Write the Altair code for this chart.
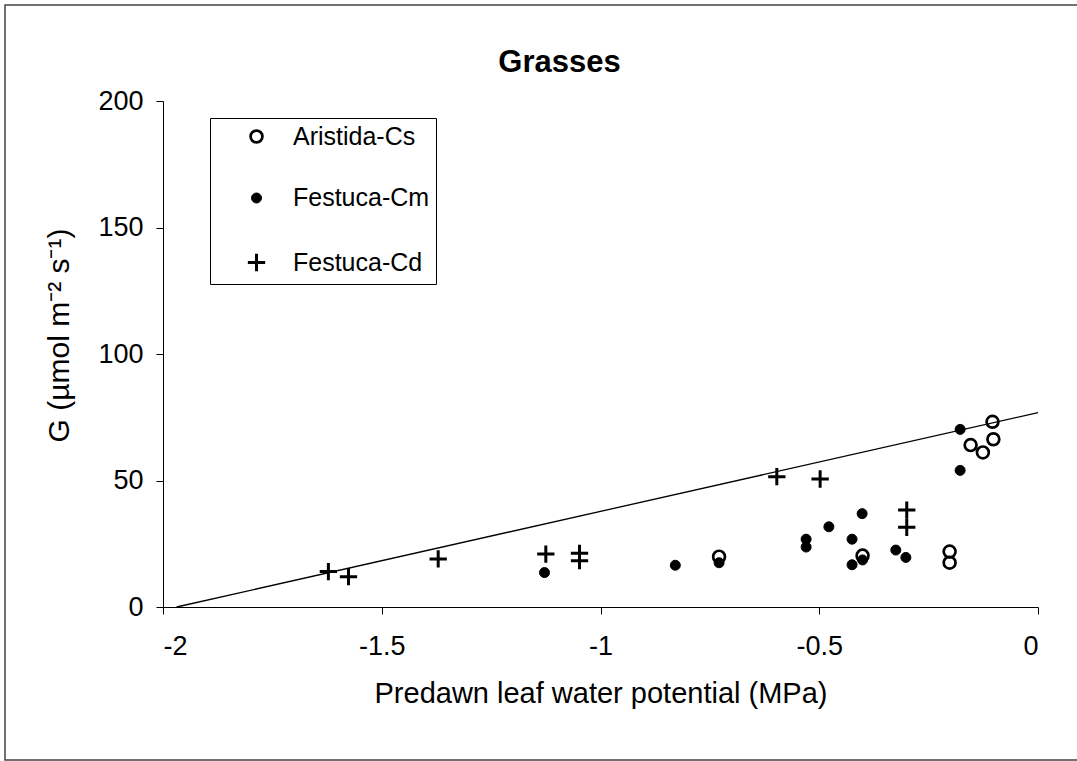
import altair as alt
import pandas as pd

# ---- data ----
species_order = ["Aristida-Cs", "Festuca-Cm", "Festuca-Cd"]

aristida_x = [-0.729, -0.401, -0.202, -0.202, -0.154, -0.126, -0.104, -0.102]
aristida_y = [19.9, 20.3, 21.9, 17.5, 64.0, 61.1, 73.2, 66.3]

cm_x = [-1.128, -0.829, -0.729, -0.530, -0.530, -0.478, -0.425, -0.425,
        -0.402, -0.401, -0.325, -0.302, -0.178, -0.178]
cm_y = [13.6, 16.5, 17.5, 26.8, 23.7, 31.7, 26.8, 16.7,
        36.9, 18.6, 22.5, 19.6, 70.2, 54.0]

cd_x = [-1.622, -1.576, -1.371, -1.125, -1.048, -1.048, -0.597, -0.498, -0.300, -0.300]
cd_y = [14.0, 12.0, 19.0, 20.9, 21.2, 18.3, 51.5, 50.6, 38.3, 31.5]

line_x = [-1.969, 0.0]
line_y = [0.0, 76.8]

x_ticks = [-2, -1.5, -1, -0.5, 0]
y_ticks = [0, 50, 100, 150, 200]

FONT = "Liberation Sans"
PLUS = "M-1,0L1,0M0,-1L0,1"

rows = []
for name, xs, ys in [(species_order[0], aristida_x, aristida_y),
                     (species_order[1], cm_x, cm_y),
                     (species_order[2], cd_x, cd_y)]:
    for xv, yv in zip(xs, ys):
        rows.append({"species": name, "psi": xv, "G": yv})
pts = pd.DataFrame(rows)
pts["idx"] = range(len(pts))
line_df = pd.DataFrame({"psi": line_x, "G": line_y})

W, H = 875, 506

xscale = alt.Scale(domain=[-2, 0], nice=False, zero=False)
yscale = alt.Scale(domain=[0, 200], nice=False)

xaxis = alt.Axis(values=x_ticks, labelExpr="'' + datum.value", grid=False,
                 tickSize=7, labelPadding=19, labelFontSize=27,
                 title="Predawn leaf water potential (MPa)", titleFontSize=29,
                 titleFontWeight="normal", titleX=W / 2, titleY=95,
                 titleBaseline="alphabetic", titleAlign="center")
yaxis = alt.Axis(values=y_ticks, grid=False, tickSize=7, labelPadding=13,
                 labelFontSize=27,
                 title="G (µmol m⁻² s⁻¹)", titleFontSize=30,
                 titleFontWeight="normal", titleX=-95, titleY=234,
                 titleBaseline="alphabetic", titleAlign="center", titleAngle=270)

frame = alt.Chart(pd.DataFrame({"a": [0]})).mark_rect(
    fill="transparent", stroke="#444", strokeWidth=1.5
).encode(x=alt.value(-158), x2=alt.value(916), y=alt.value(-96), y2=alt.value(659))

line = alt.Chart(line_df).mark_line(color="black", strokeWidth=1.3).encode(
    x=alt.X("psi:Q", scale=xscale, axis=xaxis),
    y=alt.Y("G:Q", scale=yscale, axis=yaxis),
)

legend = alt.Legend(orient="none", legendX=47, legendY=17, title=None,
                    strokeColor="black", padding=6, rowPadding=35.5,
                    symbolOffset=28, labelOffset=24, labelFontSize=25,
                    labelFont=FONT, labelColor="black", fillColor="white")

points = alt.Chart(pts).mark_point(filled=False, opacity=1).encode(
    x=alt.X("psi:Q", scale=xscale, axis=xaxis),
    y=alt.Y("G:Q", scale=yscale, axis=yaxis),
    shape=alt.Shape("species:N", scale=alt.Scale(domain=species_order,
                    range=["circle", "circle", PLUS]), legend=legend),
    fill=alt.Fill("species:N", scale=alt.Scale(domain=species_order,
                  range=["transparent", "black", "transparent"]), legend=legend),
    stroke=alt.Stroke("species:N", scale=alt.Scale(domain=species_order,
                  range=["black", "black", "black"]), legend=legend),
    size=alt.Size("species:N", scale=alt.Scale(type="ordinal", domain=species_order,
                  range=[140, 100, 300]), legend=legend),
    strokeWidth=alt.StrokeWidth("species:N", scale=alt.Scale(type="ordinal",
                  domain=species_order, range=[2.7, 1, 3]), legend=legend),
    order=alt.Order("idx:Q"),
)

chart = alt.layer(frame, line, points).properties(
    width=W, height=H,
    title=alt.TitleParams("Grasses", fontSize=31, fontWeight="bold", font=FONT,
                          anchor="middle", dx=-41, offset=-99,
                          baseline="alphabetic", color="black"),
    autosize=alt.AutoSizeParams(type="none"),
    padding={"left": 163, "top": 101, "right": 39, "bottom": 154},
).configure(
    font=FONT, background="white"
).configure_view(stroke=None).configure_axis(
    domainColor="black", tickColor="black", labelColor="black",
    titleColor="black", labelFont=FONT, titleFont=FONT, domainWidth=1, tickWidth=1
)

chart.save("out.html", embed_options={"renderer": "svg", "actions": False})
